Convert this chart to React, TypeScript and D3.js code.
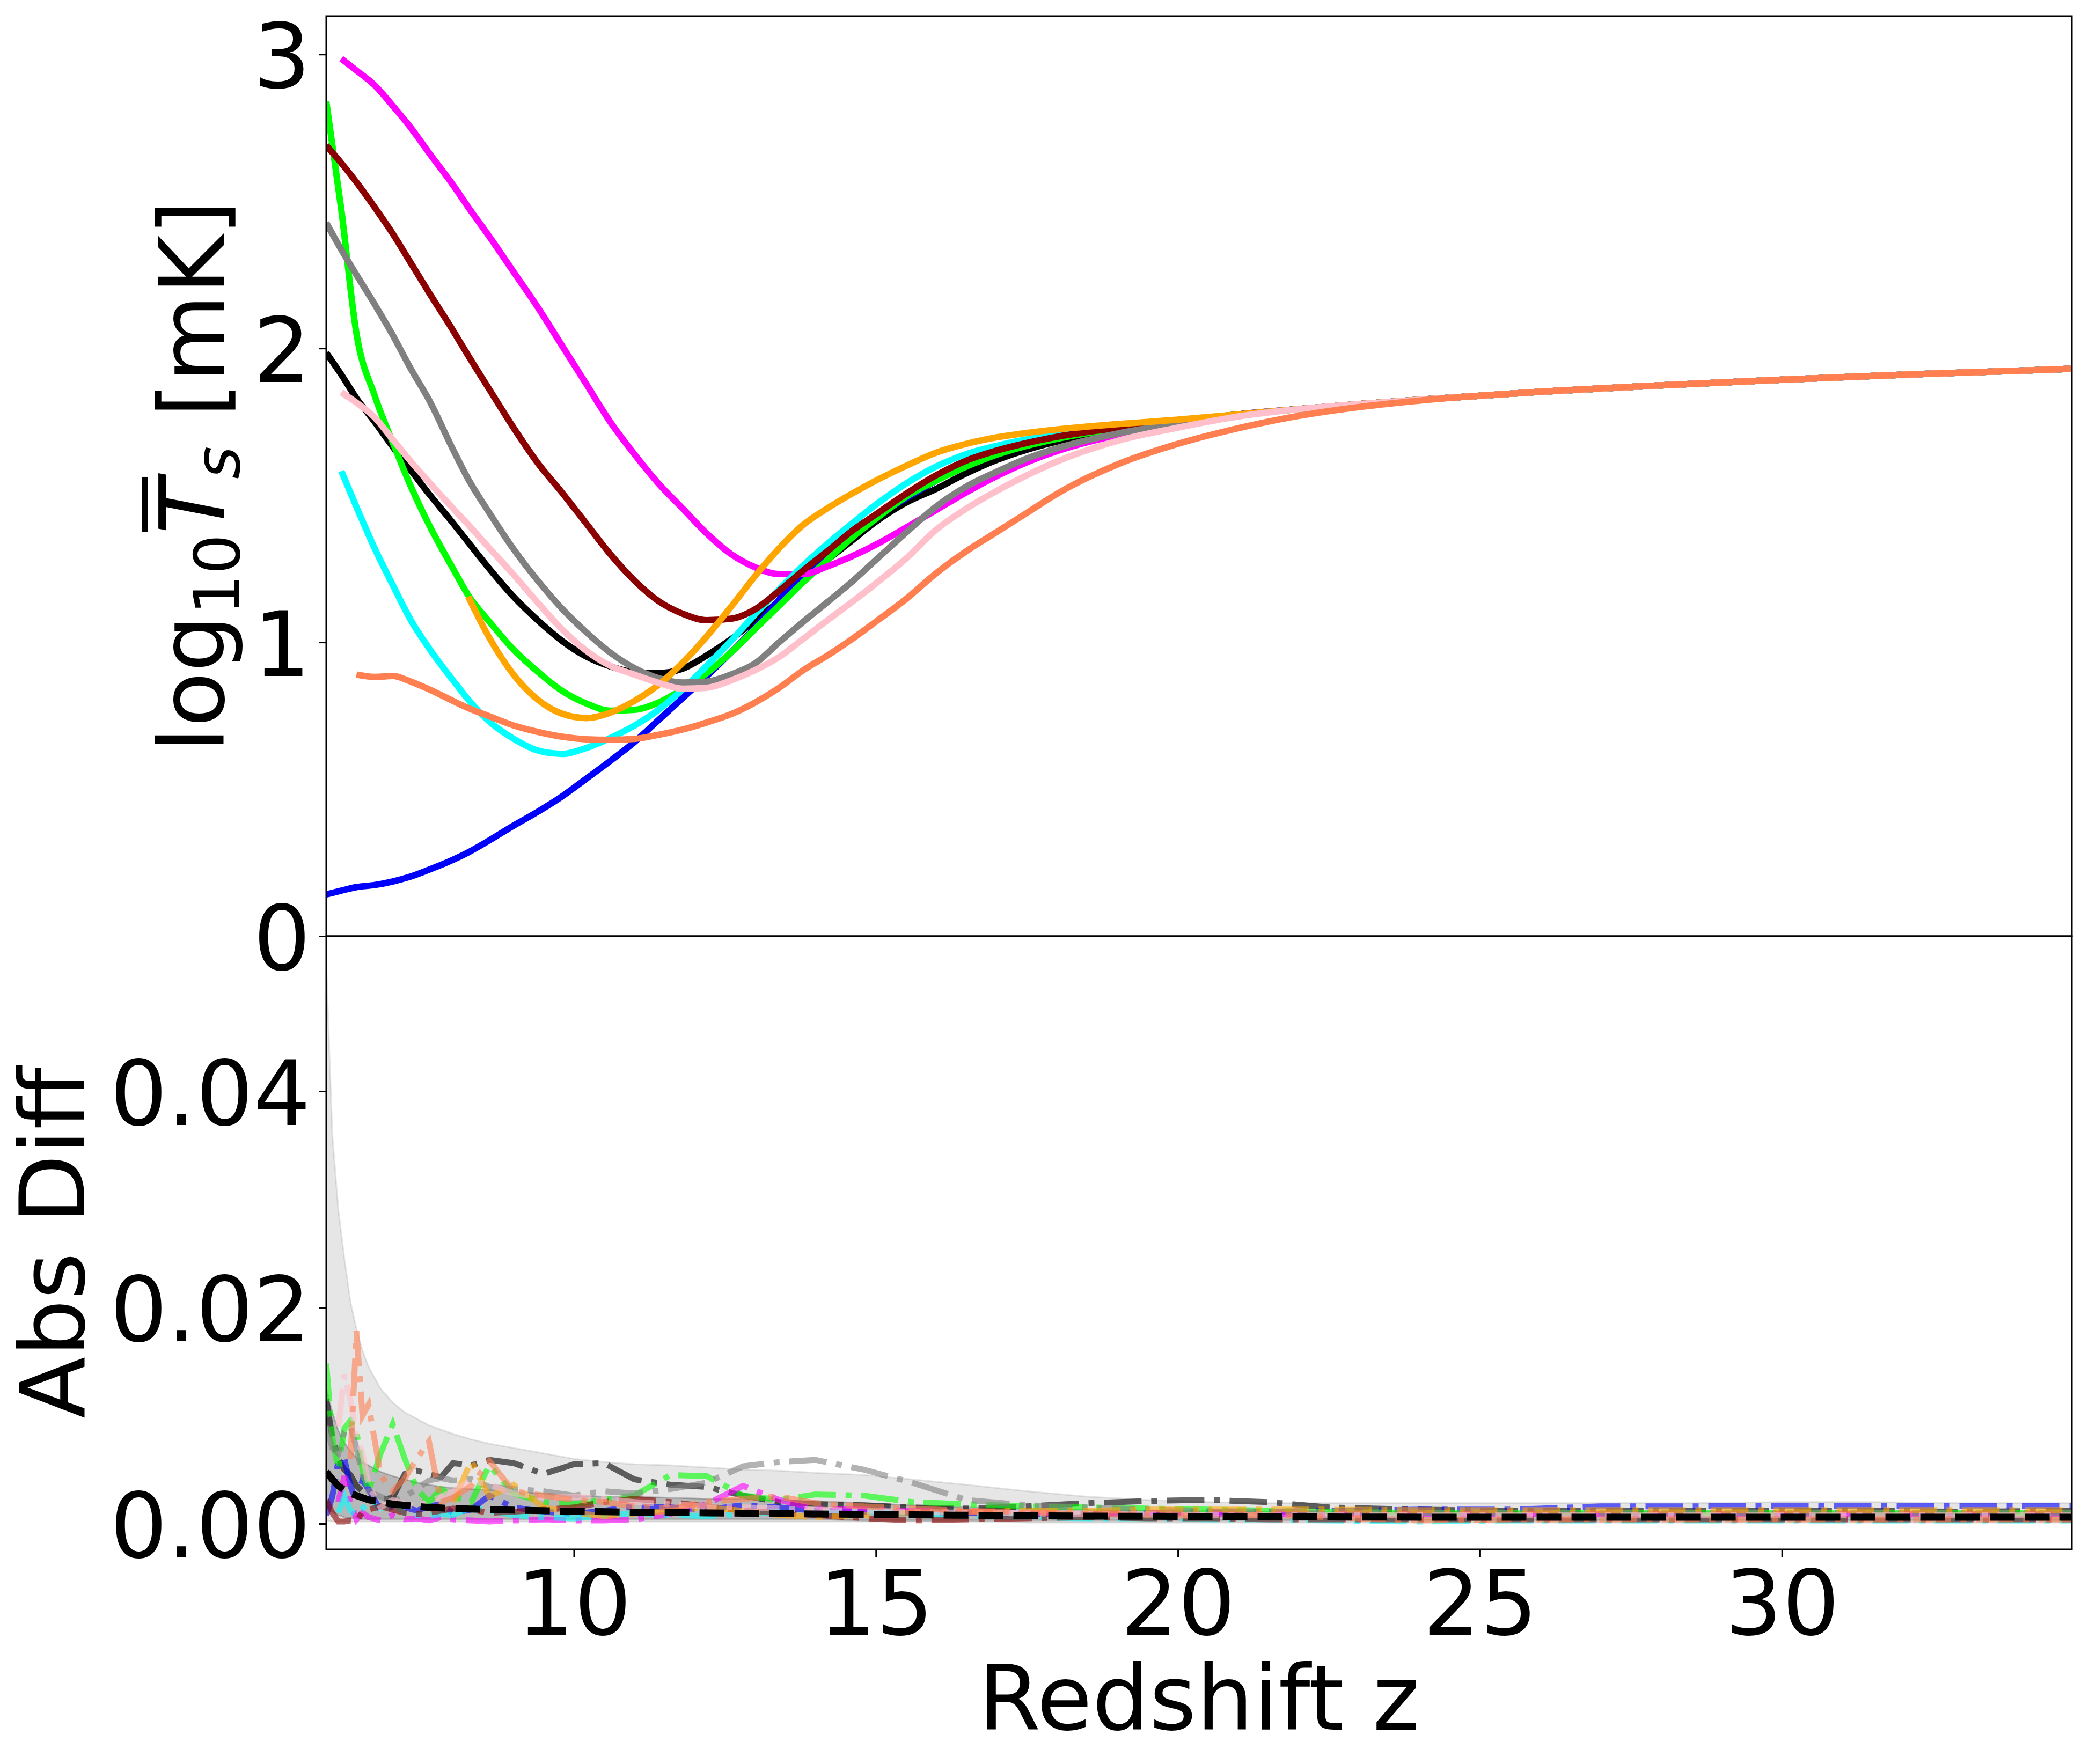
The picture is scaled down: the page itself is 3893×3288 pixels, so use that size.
import React, { useEffect, useRef } from "react";
import * as d3 from "d3";

// ---- upper panel: log10 mean spin temperature vs redshift ----
const Z_TS = [5.9, 6.15, 6.4, 6.7, 7.0, 7.3, 7.6, 8.0, 8.25, 8.6, 9.0, 9.4, 9.8, 10.2, 10.6, 11.0, 11.4, 11.8, 12.2, 12.6, 13.0, 13.4, 13.8, 14.2, 14.6, 15.0, 15.5, 16.0, 16.5, 17.0, 17.5, 18.0, 19.0, 20.0, 21.0, 22.0, 23.0, 24.0, 26.0, 28.0, 30.0, 32.0, 34.8];

const TS_BLACK = [1.985, 1.91, 1.83, 1.75, 1.665, 1.585, 1.505, 1.405, 1.34, 1.25, 1.155, 1.075, 1.005, 0.952, 0.918, 0.898, 0.895, 0.91, 0.955, 1.01, 1.075, 1.14, 1.21, 1.28, 1.345, 1.41, 1.475, 1.522, 1.575, 1.62, 1.655, 1.683, 1.722, 1.75, 1.775, 1.793, 1.81, 1.825, 1.852, 1.874, 1.893, 1.91, 1.93];
const TS_BLUE = [0.142, 0.155, 0.167, 0.174, 0.186, 0.203, 0.226, 0.26, 0.285, 0.326, 0.376, 0.423, 0.475, 0.535, 0.596, 0.66, 0.735, 0.81, 0.885, 0.965, 1.05, 1.145, 1.23, 1.3, 1.37, 1.427, 1.49, 1.55, 1.607, 1.645, 1.673, 1.696, 1.728, 1.752, 1.775, 1.793, 1.81, 1.825, 1.852, 1.874, 1.893, 1.91, 1.93];
const TS_LIME = [2.84, 2.47, 2.05, 1.84, 1.68, 1.53, 1.4, 1.25, 1.16, 1.07, 0.975, 0.9, 0.835, 0.792, 0.767, 0.77, 0.795, 0.84, 0.895, 0.965, 1.045, 1.125, 1.205, 1.28, 1.355, 1.42, 1.495, 1.55, 1.598, 1.638, 1.668, 1.692, 1.727, 1.752, 1.775, 1.793, 1.81, 1.825, 1.852, 1.874, 1.893, 1.91, 1.93];
const TS_MAGENTA = [null, 2.985, 2.945, 2.895, 2.825, 2.75, 2.665, 2.555, 2.48, 2.38, 2.26, 2.14, 2.01, 1.88, 1.75, 1.64, 1.54, 1.455, 1.37, 1.3, 1.255, 1.232, 1.232, 1.258, 1.292, 1.332, 1.39, 1.45, 1.51, 1.565, 1.612, 1.65, 1.705, 1.742, 1.775, 1.793, 1.81, 1.825, 1.852, 1.874, 1.893, 1.91, 1.93];
const TS_CYAN = [null, 1.582, 1.46, 1.32, 1.195, 1.075, 0.98, 0.87, 0.805, 0.73, 0.672, 0.632, 0.62, 0.64, 0.674, 0.716, 0.77, 0.84, 0.92, 1.004, 1.095, 1.18, 1.262, 1.335, 1.403, 1.468, 1.54, 1.598, 1.64, 1.668, 1.69, 1.707, 1.733, 1.753, 1.775, 1.793, 1.81, 1.825, 1.852, 1.874, 1.893, 1.91, 1.93];
const TS_DARKRED = [2.69, 2.63, 2.565, 2.48, 2.39, 2.29, 2.19, 2.06, 1.975, 1.86, 1.73, 1.61, 1.51, 1.405, 1.3, 1.21, 1.14, 1.097, 1.075, 1.08, 1.112, 1.175, 1.245, 1.31, 1.378, 1.435, 1.505, 1.568, 1.618, 1.652, 1.678, 1.699, 1.729, 1.752, 1.775, 1.793, 1.81, 1.825, 1.852, 1.874, 1.893, 1.91, 1.93];
const TS_GRAY = [2.427, 2.335, 2.25, 2.15, 2.045, 1.93, 1.825, 1.655, 1.555, 1.44, 1.317, 1.21, 1.115, 1.035, 0.965, 0.912, 0.878, 0.863, 0.866, 0.89, 0.928, 1.0, 1.07, 1.137, 1.205, 1.28, 1.373, 1.462, 1.53, 1.58, 1.625, 1.66, 1.71, 1.745, 1.775, 1.793, 1.81, 1.825, 1.852, 1.874, 1.893, 1.91, 1.93];
const TS_ORANGE = [null, null, null, null, null, null, null, null, 1.155, 1.015, 0.89, 0.805, 0.757, 0.742, 0.76, 0.8, 0.855, 0.93, 1.02, 1.12, 1.225, 1.32, 1.4, 1.456, 1.505, 1.55, 1.6, 1.645, 1.675, 1.697, 1.712, 1.724, 1.742, 1.757, 1.775, 1.793, 1.81, 1.825, 1.852, 1.874, 1.893, 1.91, 1.93];
const TS_PINK = [null, 1.85, 1.815, 1.765, 1.69, 1.615, 1.545, 1.455, 1.4, 1.32, 1.23, 1.135, 1.045, 0.972, 0.92, 0.89, 0.862, 0.842, 0.845, 0.87, 0.905, 0.95, 1.012, 1.075, 1.136, 1.2, 1.285, 1.383, 1.455, 1.515, 1.568, 1.615, 1.685, 1.73, 1.768, 1.793, 1.81, 1.825, 1.852, 1.874, 1.893, 1.91, 1.93];
const TS_CORAL = [null, null, 0.89, 0.882, 0.885, 0.866, 0.84, 0.8, 0.776, 0.748, 0.717, 0.695, 0.679, 0.67, 0.668, 0.671, 0.685, 0.703, 0.727, 0.755, 0.795, 0.845, 0.905, 0.955, 1.01, 1.07, 1.147, 1.235, 1.31, 1.375, 1.44, 1.505, 1.605, 1.675, 1.728, 1.77, 1.8, 1.822, 1.852, 1.874, 1.893, 1.91, 1.93];

// ---- lower panel: absolute differences, read in units of 1e-3 ----
const DIFF_UNIT = 1e-3;
const Z_DIFF = [5.9, 6.0, 6.1, 6.2, 6.3, 6.4, 6.5, 6.6, 6.8, 7.0, 7.2, 7.4, 7.6, 7.8, 8.0, 8.3, 8.6, 9.0, 9.5, 10.0, 10.5, 11.0, 11.6, 12.2, 12.8, 13.4, 14.0, 14.8, 15.6, 16.5, 17.5, 18.5, 19.5, 20.5, 21.5, 22.5, 24.0, 25.5, 27.0, 28.5, 30.0, 31.5, 33.0, 34.8];

const BAND_HI = [51.8, 36.0, 29.0, 24.5, 20.5, 18.0, 16.0, 14.5, 12.5, 11.2, 10.3, 9.7, 9.1, 8.7, 8.3, 7.8, 7.4, 7.0, 6.5, 6.0, 5.7, 5.5, 5.4, 5.2, 5.0, 4.9, 4.7, 4.5, 4.1, 3.6, 3.0, 2.5, 2.2, 2.0, 1.9, 1.9, 1.9, 1.9, 1.9, 1.9, 2.0, 2.0, 1.9, 1.9];
const BAND_LO = [0.3, 0.2, 0.2, 0.2, 0.2, 0.2, 0.2, 0.2, 0.2, 0.2, 0.2, 0.2, 0.2, 0.2, 0.2, 0.2, 0.2, 0.2, 0.2, 0.2, 0.2, 0.2, 0.2, 0.2, 0.2, 0.2, 0.2, 0.2, 0.2, 0.2, 0.1, 0.1, 0.1, 0.1, 0.1, 0.1, 0.1, 0.1, 0.1, 0.1, 0.1, 0.1, 0.1, 0.1];
const INNER_HI = [12.5, 10.3, 8.6, 7.5, 6.7, 6.1, 5.7, 5.4, 4.8, 4.4, 4.1, 3.8, 3.6, 3.4, 3.3, 3.2, 3.1, 2.9, 2.8, 2.6, 2.5, 2.5, 2.4, 2.3, 2.3, 2.2, 2.1, 1.9, 1.7, 1.5, 1.4, 1.3, 1.2, 1.2, 1.1, 1.1, 1.1, 1.1, 1.1, 1.1, 1.1, 1.1, 1.1, 1.1];
const INNER_LO = [1.6, 1.1, 0.8, 0.6, 0.5, 0.5, 0.4, 0.4, 0.4, 0.4, 0.4, 0.4, 0.4, 0.4, 0.4, 0.4, 0.4, 0.4, 0.4, 0.4, 0.4, 0.4, 0.4, 0.4, 0.4, 0.4, 0.4, 0.3, 0.3, 0.3, 0.3, 0.3, 0.3, 0.3, 0.3, 0.3, 0.3, 0.3, 0.3, 0.3, 0.3, 0.3, 0.3, 0.3];
const DIFF_MEAN = [4.8, 4.1, 3.5, 3.1, 2.8, 2.6, 2.4, 2.2, 2.0, 1.8, 1.7, 1.6, 1.5, 1.45, 1.4, 1.35, 1.3, 1.25, 1.2, 1.15, 1.1, 1.07, 1.04, 1.0, 0.97, 0.94, 0.9, 0.86, 0.82, 0.78, 0.74, 0.7, 0.68, 0.66, 0.64, 0.62, 0.6, 0.6, 0.6, 0.6, 0.6, 0.6, 0.6, 0.6];

const DIFF_BLACK = [11.5, 8.0, 6.0, 5.0, 4.5, 3.5, 3.0, 2.6, 2.2, 2.4, 4.6, 4.9, 4.6, 4.3, 5.6, 5.4, 5.9, 5.6, 4.6, 5.5, 5.6, 4.1, 3.6, 3.4, 2.6, 2.0, 1.8, 1.7, 1.5, 1.4, 1.6, 1.9, 2.1, 2.2, 2.0, 1.5, 1.3, 1.2, 1.2, 1.2, 1.2, 1.2, 1.1, 1.2];
const DIFF_BLUE = [0.8, 2.5, 5.8, 6.0, 3.5, 2.0, 4.0, 3.2, 1.2, 1.6, 1.5, 1.2, 1.6, 1.8, 1.0, 1.3, 2.6, 1.5, 1.1, 0.9, 1.2, 1.6, 1.5, 1.3, 1.7, 1.5, 1.2, 1.1, 1.0, 1.0, 0.9, 0.9, 1.0, 1.1, 1.1, 1.2, 1.3, 1.3, 1.6, 1.6, 1.65, 1.65, 1.65, 1.65];
const DIFF_LIME = [14.8, 8.0, 5.0, 8.8, 9.5, 8.5, 5.0, 3.0, 6.5, 9.2, 6.0, 3.2, 2.0, 3.2, 2.5, 2.0, 5.4, 2.8, 2.0, 1.8, 2.2, 2.6, 4.5, 4.4, 2.6, 2.2, 2.7, 2.6, 2.0, 1.8, 1.6, 1.5, 1.4, 1.3, 1.2, 1.1, 1.0, 1.0, 1.0, 1.0, 1.0, 1.0, 1.0, 1.0];
const DIFF_MAGENTA = [null, null, 2.0, 4.4, 2.0, 0.4, 1.0, 0.6, 0.3, 0.8, 0.4, 0.5, 0.3, 0.6, 0.4, 0.3, 0.2, 0.3, 0.4, 0.3, 0.3, 0.4, 0.9, 1.8, 3.5, 2.2, 1.4, 1.3, 1.2, 1.1, 1.0, 0.9, 1.0, 0.9, 0.9, 0.9, 0.9, 0.9, 0.9, 0.9, 0.9, 0.9, 0.9, 0.9];
const DIFF_CYAN = [null, null, 1.0, 2.5, 1.2, 0.8, 1.4, 2.0, 1.4, 1.8, 1.0, 0.8, 0.7, 0.9, 0.8, 1.5, 1.2, 0.8, 0.6, 0.5, 0.7, 1.0, 0.8, 0.7, 0.9, 1.1, 0.9, 1.2, 0.9, 0.7, 0.6, 0.5, 0.5, 0.4, 0.4, 0.3, 0.2, 0.3, 0.3, 0.3, 0.3, 0.3, 0.3, 0.3];
const DIFF_DARKRED = [2.2, 1.0, 0.2, 0.2, 0.3, 0.2, 1.1, 1.3, 1.6, 1.3, 1.0, 0.9, 1.0, 1.2, 1.4, 1.3, 1.0, 1.1, 1.3, 1.5, 2.0, 2.3, 2.0, 1.6, 1.2, 1.0, 0.8, 0.5, 0.3, 0.4, 0.5, 0.6, 0.5, 0.5, 0.4, 0.4, 0.4, 0.4, 0.4, 0.4, 0.4, 0.4, 0.4, 0.4];
const DIFF_GRAY = [9.0, 7.0, 6.5, 8.5, 9.0, 7.0, 4.5, 3.0, 2.5, 2.0, 2.5, 3.2, 4.0, 4.2, 4.0, 4.1, 3.4, 3.2, 3.0, 2.6, 3.0, 2.8, 3.2, 3.8, 5.3, 5.7, 5.9, 5.0, 3.8, 2.2, 1.7, 1.5, 1.3, 1.2, 1.1, 1.0, 1.0, 1.0, 1.0, 1.0, 1.0, 1.0, 1.0, 1.0];
const DIFF_ORANGE = [null, null, null, null, null, null, null, null, null, null, null, null, null, null, 2.0, 5.8, 2.5, 3.6, 1.5, 1.0, 0.7, 0.9, 1.2, 1.5, 1.2, 0.8, 0.6, 0.8, 1.0, 1.1, 1.2, 1.2, 1.3, 1.3, 1.3, 1.3, 1.25, 1.25, 1.25, 1.25, 1.25, 1.25, 1.25, 1.25];
const DIFF_PINK = [null, null, 9.0, 13.8, 11.5, 8.0, 6.5, 3.5, 1.5, 2.2, 1.8, 1.5, 2.0, 2.5, 3.0, 4.0, 3.6, 2.8, 2.4, 2.5, 2.3, 2.0, 1.8, 1.6, 1.5, 1.4, 1.3, 1.2, 1.1, 1.0, 0.95, 0.9, 0.85, 0.8, 0.8, 0.8, 0.8, 0.8, 0.8, 0.8, 0.8, 0.8, 0.8, 0.8];
const DIFF_CORAL = [null, null, null, null, 6.0, 17.8, 10.0, 11.0, 4.5, 3.0, 4.2, 6.0, 7.6, 2.0, 2.4, 3.5, 5.8, 3.0, 2.6, 2.2, 2.0, 1.6, 1.4, 2.0, 2.3, 2.5, 1.9, 1.6, 1.4, 1.2, 1.0, 0.9, 0.8, 0.7, 0.8, 0.6, 0.3, 0.4, 0.4, 0.4, 0.4, 0.4, 0.4, 0.4];

const X_TICKS = [10, 15, 20, 25, 30];
const TS_TICKS = [0, 1, 2, 3];
const DIFF_TICKS = [0, 0.02, 0.04];

const SERIES = [
  { color: "black", ts: TS_BLACK, diff: DIFF_BLACK },
  { color: "blue", ts: TS_BLUE, diff: DIFF_BLUE },
  { color: "lime", ts: TS_LIME, diff: DIFF_LIME },
  { color: "magenta", ts: TS_MAGENTA, diff: DIFF_MAGENTA },
  { color: "cyan", ts: TS_CYAN, diff: DIFF_CYAN },
  { color: "darkred", ts: TS_DARKRED, diff: DIFF_DARKRED },
  { color: "gray", ts: TS_GRAY, diff: DIFF_GRAY },
  { color: "orange", ts: TS_ORANGE, diff: DIFF_ORANGE },
  { color: "pink", ts: TS_PINK, diff: DIFF_PINK },
  { color: "coral", ts: TS_CORAL, diff: DIFF_CORAL },
];

const W = 3893;
const H = 3288;
const FONT = "DejaVu Sans";
const FS = 168;

export default function App() {
  const svgRef = useRef<SVGSVGElement>(null);

  useEffect(() => {
    if (!svgRef.current) return;
    const svg = d3.select(svgRef.current);
    svg.selectAll("*").remove();

    const left = 608, right = 3861, top = 30, mid = 1745, bottom = 2888;

    const x = d3.scaleLinear().domain([5.9, 34.8]).range([left, right]);
    const yTs = d3.scaleLinear().domain([0, 3.13]).range([mid, top]);
    const yDiff = d3.scaleLinear().domain([-0.00238, 0.05434]).range([bottom, mid]);

    svg.append("rect").attr("width", W).attr("height", H).attr("fill", "white");

    const defs = svg.append("defs");
    defs.append("clipPath").attr("id", "clipTop")
      .append("rect").attr("x", left).attr("y", top).attr("width", right - left).attr("height", mid - top);
    defs.append("clipPath").attr("id", "clipBot")
      .append("rect").attr("x", left).attr("y", mid).attr("width", right - left).attr("height", bottom - mid);

    // upper panel curves
    const gTop = svg.append("g").attr("clip-path", "url(#clipTop)");
    const tsLine = d3.line<[number, number | null]>()
      .defined((d) => d[1] != null)
      .x((d) => x(d[0]))
      .y((d) => yTs(d[1] as number))
      .curve(d3.curveMonotoneX);

    SERIES.forEach((s) => {
      const pts = Z_TS.map((z, i) => [z, s.ts[i]] as [number, number | null]);
      gTop.append("path")
        .attr("d", tsLine(pts))
        .attr("fill", "none")
        .attr("stroke", s.color)
        .attr("stroke-width", 12)
        .attr("stroke-linejoin", "round");
    });

    // lower panel
    const gBot = svg.append("g").attr("clip-path", "url(#clipBot)");
    const band = (lo: number[], hi: number[]) =>
      d3.area<number>()
        .x((_, i) => x(Z_DIFF[i]))
        .y0((_, i) => yDiff(lo[i] * DIFF_UNIT))
        .y1((_, i) => yDiff(hi[i] * DIFF_UNIT))(Z_DIFF);

    gBot.append("path").attr("d", band(BAND_LO, BAND_HI))
      .attr("fill", "gray").attr("fill-opacity", 0.2)
      .attr("stroke", "gray").attr("stroke-opacity", 0.2).attr("stroke-width", 3);
    gBot.append("path").attr("d", band(INNER_LO, INNER_HI))
      .attr("fill", "black").attr("fill-opacity", 0.2)
      .attr("stroke", "black").attr("stroke-opacity", 0.2).attr("stroke-width", 3);

    const diffLine = d3.line<[number, number | null]>()
      .defined((d) => d[1] != null)
      .x((d) => x(d[0]))
      .y((d) => yDiff((d[1] as number) * DIFF_UNIT));

    SERIES.forEach((s) => {
      const pts = Z_DIFF.map((z, i) => [z, s.diff[i]] as [number, number | null]);
      gBot.append("path")
        .attr("d", diffLine(pts))
        .attr("fill", "none")
        .attr("stroke", s.color)
        .attr("stroke-opacity", 0.6)
        .attr("stroke-width", 11)
        .attr("stroke-dasharray", "70,18,11,18");
    });

    gBot.append("path")
      .attr("d", diffLine(Z_DIFF.map((z, i) => [z, DIFF_MEAN[i]] as [number, number | null])))
      .attr("fill", "none")
      .attr("stroke", "black")
      .attr("stroke-width", 13)
      .attr("stroke-dasharray", "46,19");

    // axes
    const styleAxis = (g: any) => {
      g.select(".domain").remove();
      g.selectAll(".tick line").attr("stroke", "black").attr("stroke-width", 3);
      g.selectAll(".tick text")
        .attr("font-family", FONT)
        .attr("font-size", FS)
        .attr("fill", "black");
    };

    svg.append("g")
      .attr("transform", `translate(${left},0)`)
      .call(d3.axisLeft(yTs).tickValues(TS_TICKS).tickFormat(d3.format("d")).tickSize(14).tickPadding(15))
      .call(styleAxis)
      .selectAll(".tick text").attr("dy", "0.37em");

    svg.append("g")
      .attr("transform", `translate(${left},0)`)
      .call(d3.axisLeft(yDiff).tickValues(DIFF_TICKS).tickFormat(d3.format(".2f")).tickSize(14).tickPadding(15))
      .call(styleAxis)
      .selectAll(".tick text").attr("dy", "0.37em");

    svg.append("g")
      .attr("transform", `translate(0,${bottom})`)
      .call(d3.axisBottom(x).tickValues(X_TICKS).tickFormat(d3.format("d")).tickSize(15).tickPadding(25))
      .call(styleAxis);

    // spines
    [[top, mid], [mid, bottom]].forEach(([y0, y1]) => {
      svg.append("rect")
        .attr("x", left).attr("y", y0)
        .attr("width", right - left).attr("height", y1 - y0)
        .attr("fill", "none").attr("stroke", "black").attr("stroke-width", 3);
    });

    // axis titles
    svg.append("text")
      .attr("x", (left + right) / 2)
      .attr("y", 3224)
      .attr("text-anchor", "middle")
      .attr("font-family", FONT)
      .attr("font-size", FS)
      .text("Redshift z");

    svg.append("text")
      .attr("transform", `translate(157,${(mid + bottom) / 2}) rotate(-90)`)
      .attr("text-anchor", "middle")
      .attr("font-family", FONT)
      .attr("font-size", FS)
      .text("Abs Diff");

    const lab = svg.append("g").attr("transform", `translate(417,${(top + mid) / 2}) rotate(-90)`);
    const txt = lab.append("text")
      .attr("text-anchor", "middle")
      .attr("font-family", FONT)
      .attr("font-size", FS);
    txt.append("tspan").text("log");
    txt.append("tspan").attr("font-size", 118).attr("dy", 29).text("10");
    txt.append("tspan").attr("font-style", "italic").attr("dy", -29).text("T");
    txt.append("tspan").attr("font-size", 118).attr("font-style", "italic").attr("dy", 29).text("s");
    txt.append("tspan").attr("dy", -29).text("\u00a0[mK]");
    const node: any = txt.node();
    if (node && node.getExtentOfChar) {
      const ext = node.getExtentOfChar(5);
      lab.append("rect")
        .attr("x", ext.x + 4)
        .attr("y", -152)
        .attr("width", ext.width)
        .attr("height", 11)
        .attr("fill", "black");
    }
  }, []);

  return (
    <svg
      ref={svgRef}
      width={W}
      height={H}
      style={{ position: "absolute", left: 0, top: 0, display: "block" }}
    />
  );
}
